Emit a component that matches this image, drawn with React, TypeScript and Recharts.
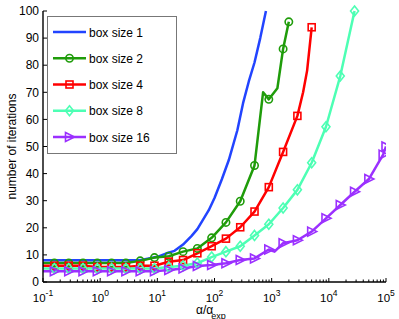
import { LineChart, Line, XAxis, YAxis, Legend } from "recharts"

const FONT = '"Liberation Sans", Arial, Helvetica, sans-serif'

// plot box in page pixels
const PLOT_L = 43
const PLOT_R = 386
const PLOT_T = 11
const PLOT_B = 282

// x positions where the markers sit (4 per decade)
const MARK_X = [
  0.158, 0.282, 0.501, 0.891, 1.585, 2.818, 5.012, 8.913, 15.85, 28.18, 50.12, 89.13,
  158.5, 281.8, 501.2, 891.3, 1585, 2818, 5012, 8913, 15849, 28184, 50119, 89125
]

const box1X = [0.1, 5.01, 7.08, 10, 14.1, 20, 28.2, 39.8, 50.1, 63.1, 79.4, 100, 135, 178, 251, 316, 398, 501, 631, 794]
const box1Y = [8, 8, 8.7, 9.3, 10.5, 11.5, 13.8, 17, 19.5, 23, 26.5, 31, 38, 45, 56, 66, 74, 81, 90, 100]

const box2X = [0.1, 0.158, 0.282, 0.501, 0.891, 1.585, 2.818, 5.012, 8.913, 15.85, 28.18, 50.12, 89.13, 158.5, 281.8, 501.2, 708, 891.3, 1259, 1585, 1995]
const box2Y = [7, 7, 7, 7, 7, 7, 7, 7.8, 9, 9.5, 11.2, 12.4, 16.3, 22, 29.8, 43, 70, 67.4, 71.5, 86, 96]

const box4X = [0.1, 0.158, 0.282, 0.501, 0.891, 1.585, 2.818, 5.012, 8.913, 15.85, 28.18, 50.12, 89.13, 158.5, 281.8, 501.2, 891.3, 1585, 2818, 3548, 4169, 5012]
const box4Y = [6, 6, 6, 6, 5.5, 5.5, 5.5, 6, 6, 7.5, 8.1, 10.6, 13.2, 16, 20.2, 26, 35, 48, 61.3, 70, 78, 94]

const box8X = [0.1, 0.158, 0.282, 0.501, 0.891, 1.585, 2.818, 5.012, 8.913, 15.85, 28.18, 50.12, 89.13, 158.5, 281.8, 501.2, 891.3, 1585, 2818, 5012, 8913, 15849, 28184]
const box8Y = [5, 5, 5, 5, 5, 5, 5, 5, 5, 5.5, 6, 7, 9.2, 11.2, 13.2, 17.2, 21.3, 27.3, 34, 44, 57.3, 76, 100]

const box16X = [0.1, 0.158, 0.282, 0.501, 0.891, 1.585, 2.818, 5.012, 8.913, 15.85, 28.18, 50.12, 89.13, 158.5, 281.8, 501.2, 891.3, 1122, 1585, 2818, 5012, 8913, 15849, 28184, 50119, 89125, 100000]
const box16Y = [4, 4, 4, 4, 4, 4, 4, 4, 4, 4.4, 5, 5.9, 6.3, 6.9, 8.1, 8.7, 12, 11.2, 14.3, 15.4, 18.6, 23.5, 28.4, 33.3, 38, 47, 50]

const X_MAJOR = [0.1, 1, 10, 100, 1000, 10000, 100000]
const Y_TICKS = [0, 10, 20, 30, 40, 50, 60, 70, 80, 90, 100]

const xTicks: number[] = []
X_MAJOR.forEach((m, i) => {
  xTicks.push(m)
  if (i < X_MAJOR.length - 1) {
    for (let k = 2; k <= 9; k++) xTicks.push(m * k)
  }
})

const zip = (xs: number[], ys: number[]) => xs.map((x, i) => ({ x, y: ys[i] }))

const SERIES = [
  { name: "box size 1", color: "#2244ff", marker: "none", data: zip(box1X, box1Y) },
  { name: "box size 2", color: "#1f9c0a", marker: "circle", data: zip(box2X, box2Y) },
  { name: "box size 4", color: "#ff0000", marker: "square", data: zip(box4X, box4Y) },
  { name: "box size 8", color: "#4dffb4", marker: "diamond", data: zip(box8X, box8Y) },
  { name: "box size 16", color: "#9b30ff", marker: "triangle", data: zip(box16X, box16Y) }
]

const isMajor = (v: number) => {
  const e = Math.log10(v)
  return Math.abs(e - Math.round(e)) < 1e-6
}

function Marker({ kind, cx, cy, color }: any) {
  const common = { fill: "none", stroke: color, strokeWidth: 1.6 }
  if (kind === "circle") return <circle cx={cx} cy={cy} r={3.7} {...common} />
  if (kind === "square") return <rect x={cx - 3.5} y={cy - 3.5} width={7} height={7} {...common} />
  if (kind === "diamond")
    return <polygon points={`${cx},${cy - 5} ${cx + 4},${cy} ${cx},${cy + 5} ${cx - 4},${cy}`} {...common} />
  if (kind === "triangle")
    return <polygon points={`${cx - 4},${cy - 4.5} ${cx + 5},${cy} ${cx - 4},${cy + 4.5}`} {...common} />
  return null
}

function makeDot(kind: string, color: string, n: number) {
  return (p: any) => {
    const x = p.payload?.x
    const marked = p.index === n - 1 || MARK_X.some((m) => Math.abs(Math.log10(m / x)) < 0.01)
    if (!marked) return <g key={p.index} />
    return <Marker key={p.index} kind={kind} cx={p.cx} cy={p.cy} color={color} />
  }
}

function BottomTick(props: any) {
  const { x, payload } = props
  const v = payload.value
  const major = isMajor(v)
  return (
    <g>
      <line x1={x} x2={x} y1={PLOT_B} y2={PLOT_B - (major ? 4 : 2.5)} stroke="#000" />
      {major && (
        <text x={x} y={302} textAnchor="middle" fontSize={11.5} fontFamily={FONT} fill="#000">
          10
          <tspan dy={-6} fontSize={8.5}>{Math.round(Math.log10(v))}</tspan>
        </text>
      )}
    </g>
  )
}

function TopTick(props: any) {
  const { x, payload } = props
  const major = isMajor(payload.value)
  return <line x1={x} x2={x} y1={PLOT_T} y2={PLOT_T + (major ? 4 : 2.5)} stroke="#000" />
}

function LeftTick(props: any) {
  const { y, payload } = props
  return (
    <g>
      <line x1={PLOT_L} x2={PLOT_L + 4} y1={y} y2={y} stroke="#000" />
      <text x={39} y={y + 4.2} textAnchor="end" fontSize={12} fontFamily={FONT} fill="#000">
        {payload.value}
      </text>
    </g>
  )
}

function RightTick(props: any) {
  const { y } = props
  return <line x1={PLOT_R - 4} x2={PLOT_R} y1={y} y2={y} stroke="#000" />
}

function LegendBox() {
  return (
    <div
      style={{
        width: 130,
        height: 138,
        boxSizing: "border-box",
        border: "1px solid #777",
        background: "#fff"
      }}
    >
      <svg width={128} height={136} style={{ display: "block" }}>
        {SERIES.map((s, i) => {
          const y = 15 + i * 26.25
          return (
            <g key={s.name}>
              <line x1={5} x2={38} y1={y} y2={y} stroke={s.color} strokeWidth={2.5} />
              <Marker kind={s.marker} cx={21.5} cy={y} color={s.color} />
              <text x={41} y={y + 4.5} fontSize={12} fontFamily={FONT} fill="#000">
                {s.name}
              </text>
            </g>
          )
        })}
      </svg>
    </div>
  )
}

export default function App() {
  return (
    <div style={{ position: "absolute", left: 0, top: 0, background: "#fff" }}>
      <LineChart
        width={399}
        height={319}
        margin={{ top: PLOT_T, right: 399 - PLOT_R, bottom: 0, left: 0 }}
      >
        <XAxis
          dataKey="x"
          type="number"
          scale="log"
          domain={[0.1, 100000]}
          allowDataOverflow
          ticks={xTicks}
          interval={0}
          height={319 - PLOT_B}
          tickLine={false}
          axisLine={{ stroke: "#000", strokeWidth: 1.4 }}
          tick={<BottomTick />}
          label={{
            content: () => (
              <text x={196} y={314} fontSize={12} fontFamily={FONT} fill="#000">
                α/α
                <tspan dx={-2} dy={4.5} fontSize={9}>exp</tspan>
              </text>
            )
          }}
        />
        <XAxis
          xAxisId="top"
          orientation="top"
          dataKey="x"
          type="number"
          scale="log"
          domain={[0.1, 100000]}
          allowDataOverflow
          ticks={xTicks}
          interval={0}
          height={0}
          tickLine={false}
          axisLine={{ stroke: "#000", strokeWidth: 1.4 }}
          tick={<TopTick />}
        />
        <YAxis
          type="number"
          domain={[0, 100]}
          ticks={Y_TICKS}
          interval={0}
          width={PLOT_L}
          tickLine={false}
          axisLine={{ stroke: "#000", strokeWidth: 1.4 }}
          tick={<LeftTick />}
          label={{
            content: () => (
              <text
                x={16}
                y={146.5}
                transform="rotate(-90 16 146.5)"
                textAnchor="middle"
                fontSize={12}
                fontFamily={FONT}
                fill="#000"
              >
                number of iterations
              </text>
            )
          }}
        />
        <YAxis
          yAxisId="right"
          orientation="right"
          type="number"
          domain={[0, 100]}
          ticks={Y_TICKS}
          interval={0}
          width={0}
          tickLine={false}
          axisLine={{ stroke: "#000", strokeWidth: 1.4 }}
          tick={<RightTick />}
        />
        <Legend
          layout="vertical"
          align="center"
          verticalAlign="middle"
          wrapperStyle={{ left: 47, top: 16, width: 130, height: 138 }}
          content={() => <LegendBox />}
        />
        {SERIES.map((s) => (
          <Line
            key={s.name}
            data={s.data}
            dataKey="y"
            name={s.name}
            type="linear"
            stroke={s.color}
            strokeWidth={2.5}
            strokeLinejoin="round"
            dot={s.marker === "none" ? false : makeDot(s.marker, s.color, s.data.length)}
            activeDot={false}
            isAnimationActive={false}
          />
        ))}
      </LineChart>
    </div>
  )
}
